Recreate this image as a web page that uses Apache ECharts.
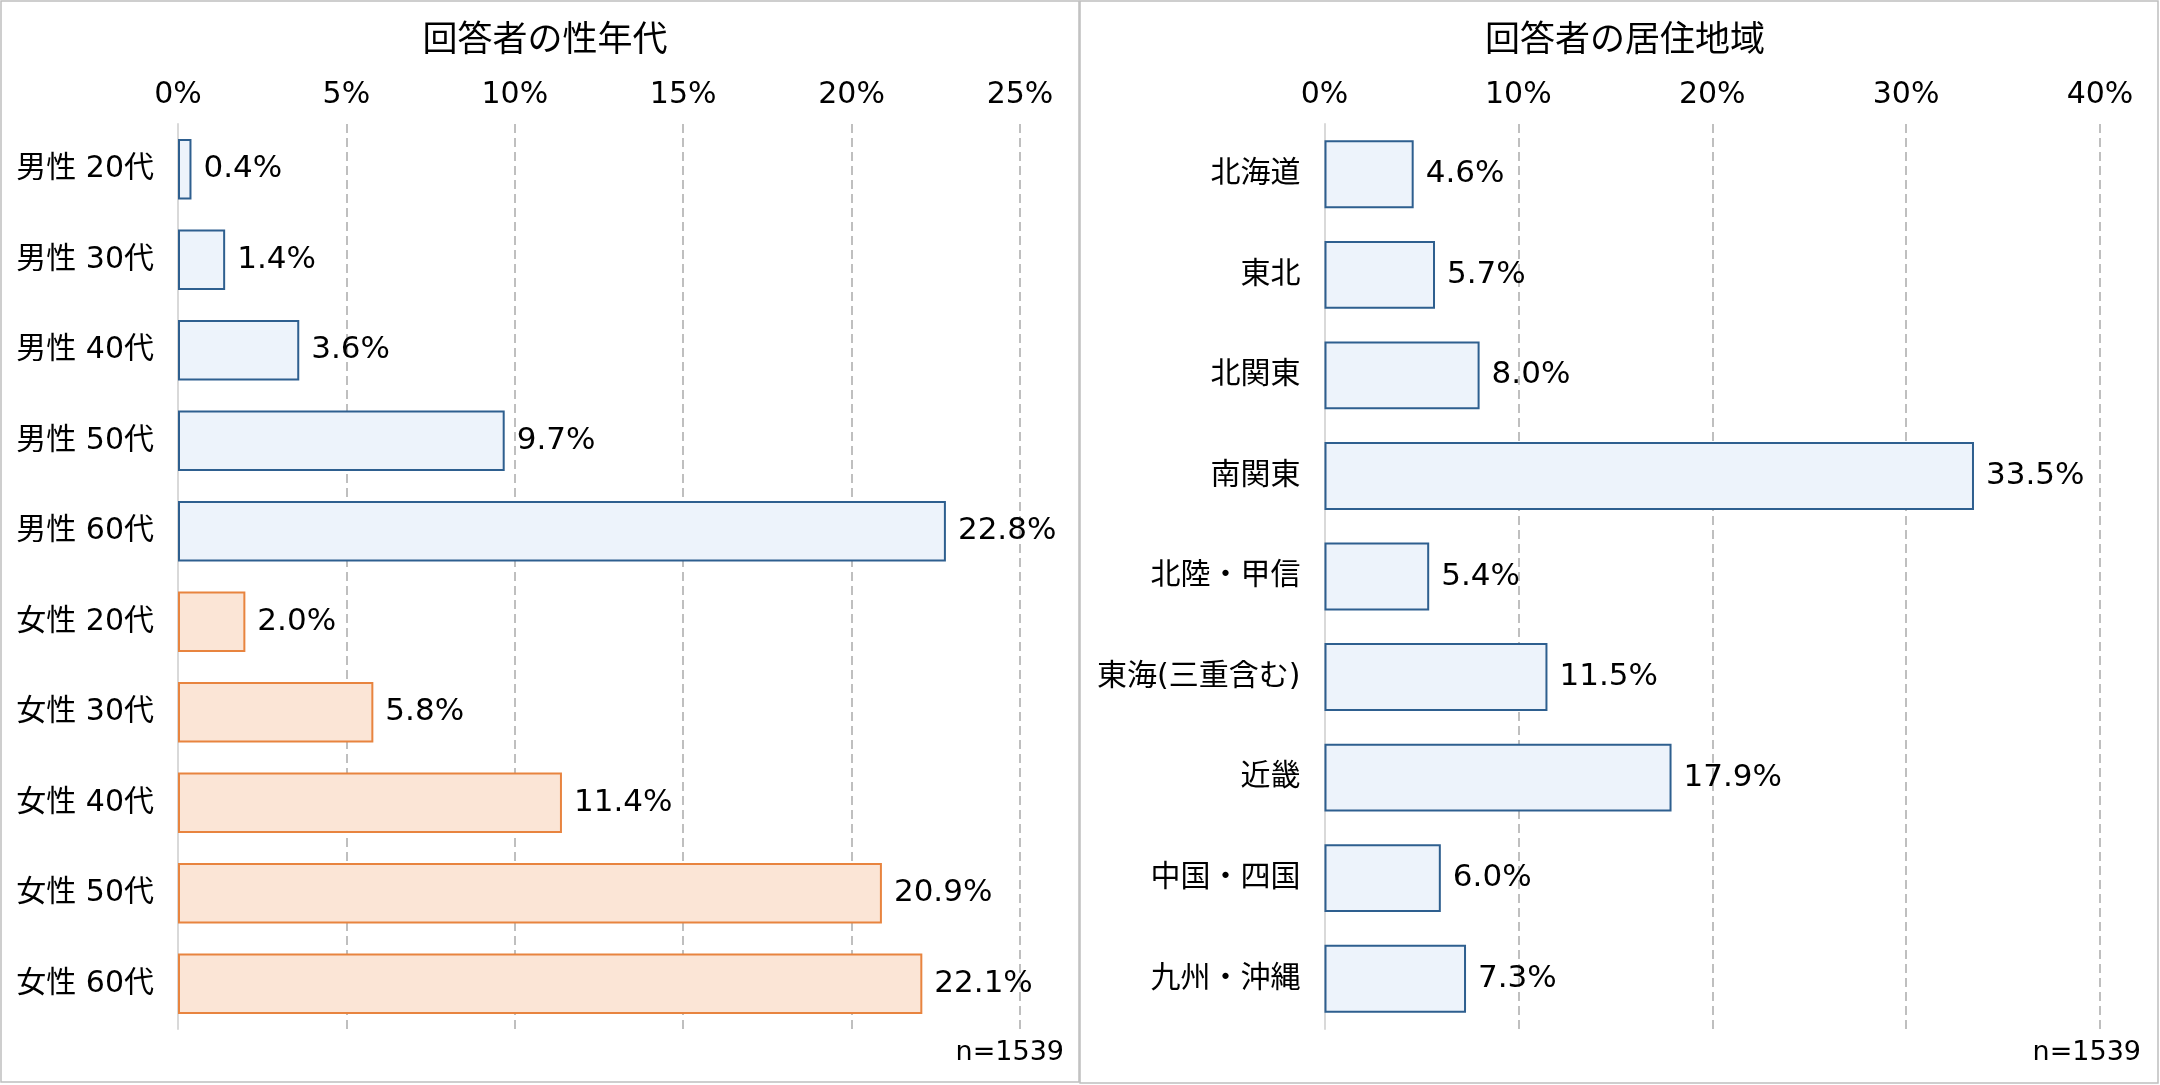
<!DOCTYPE html>
<html>
<head>
<meta charset="utf-8">
<script src="https://cdn.jsdelivr.net/npm/echarts@6/dist/echarts.min.js"></script>
<style>
html,body{margin:0;padding:0;background:#fff;}
#chart{width:2160px;height:1085px;}
</style>
</head>
<body>
<div id="chart"></div>
<script>
// ---- data ----
const leftTitle = '回答者の性年代';
const rightTitle = '回答者の居住地域';
const ageCategories = ['男性 20代','男性 30代','男性 40代','男性 50代','男性 60代','女性 20代','女性 30代','女性 40代','女性 50代','女性 60代'];
const maleValues   = [0.4, 1.4, 3.6, 9.7, 22.8, '-', '-', '-', '-', '-'];
const femaleValues = ['-', '-', '-', '-', '-', 2.0, 5.8, 11.4, 20.9, 22.1];
const regionCategories = ['北海道','東北','北関東','南関東','北陸・甲信','東海(三重含む)','近畿','中国・四国','九州・沖縄'];
const regionValues = [4.6, 5.7, 8.0, 33.5, 5.4, 11.5, 17.9, 6.0, 7.3];
const leftTicks = {min: 0, max: 25, interval: 5};
const rightTicks = {min: 0, max: 40, interval: 10};
const sampleNote = 'n=1539';

// ---- styles ----
const FONT = '"DejaVu Sans", "Noto Sans CJK JP", sans-serif';
const BLUE = {color: '#edf3fb', borderColor: '#2e5f8f', borderWidth: 2};
const ORANGE = {color: '#fbe5d6', borderColor: '#e8843f', borderWidth: 2};
const labelStyle = {
  show: true, position: 'right', distance: 12,
  fontFamily: FONT, fontSize: 31, color: '#000',
  formatter: p => Number(p.value).toFixed(1) + '%'
};

function xAxisFor(idx, ticks) {
  return {
    gridIndex: idx, type: 'value', position: 'top',
    min: ticks.min, max: ticks.max, interval: ticks.interval,
    axisLine: {show: false}, axisTick: {show: false},
    axisLabel: {fontFamily: FONT, fontSize: 30, color: '#000', margin: 14, formatter: '{value}%'},
    splitLine: {show: true, lineStyle: {color: '#bfbfbf', width: 2, type: [9, 5]}}
  };
}
function yAxisFor(idx, cats) {
  return {
    gridIndex: idx, type: 'category', data: cats, inverse: true,
    axisLine: {show: true, lineStyle: {color: '#d9d9d9', width: 2}},
    axisTick: {show: false},
    axisLabel: {fontFamily: FONT, fontSize: 30, color: '#000', margin: 24}
  };
}

const chart = echarts.init(document.getElementById('chart'), null, {renderer: 'canvas'});
chart.setOption({
  backgroundColor: '#fff',
  animation: false,
  title: [
    {text: leftTitle, left: 540, top: 19, textAlign: 'center',
     textStyle: {fontFamily: FONT, fontSize: 35, fontWeight: 'normal', color: '#000'}},
    {text: rightTitle, left: 1620, top: 19, textAlign: 'center',
     textStyle: {fontFamily: FONT, fontSize: 35, fontWeight: 'normal', color: '#000'}}
  ],
  grid: [
    {left: 178, right: 1140, top: 124, bottom: 56},
    {left: 1324.5, right: 60, top: 124, bottom: 56}
  ],
  xAxis: [xAxisFor(0, leftTicks), xAxisFor(1, rightTicks)],
  yAxis: [yAxisFor(0, ageCategories), yAxisFor(1, regionCategories)],
  series: [
    {type: 'bar', xAxisIndex: 0, yAxisIndex: 0, data: maleValues,
     barCategoryGap: '33%', barGap: '-100%', itemStyle: BLUE, label: labelStyle},
    {type: 'bar', xAxisIndex: 0, yAxisIndex: 0, data: femaleValues,
     barCategoryGap: '33%', barGap: '-100%', itemStyle: ORANGE, label: labelStyle},
    {type: 'bar', xAxisIndex: 1, yAxisIndex: 1, data: regionValues,
     barCategoryGap: '32.5%', itemStyle: BLUE, label: labelStyle}
  ],
  graphic: [
    {type: 'rect', shape: {x: 1, y: 1, width: 1078, height: 1081}, silent: true, z: 100,
     style: {fill: null, stroke: '#bfbfbf', lineWidth: 1.5}},
    {type: 'rect', shape: {x: 1080, y: 1, width: 1078, height: 1082}, silent: true, z: 100,
     style: {fill: null, stroke: '#bfbfbf', lineWidth: 1.5}},
    {type: 'text', x: 1064, y: 1053, silent: true,
     style: {text: sampleNote, fontFamily: FONT, fontSize: 27, fill: '#000', align: 'right', verticalAlign: 'middle'}},
    {type: 'text', x: 2141, y: 1053, silent: true,
     style: {text: sampleNote, fontFamily: FONT, fontSize: 27, fill: '#000', align: 'right', verticalAlign: 'middle'}}
  ]
});
</script>
</body>
</html>
